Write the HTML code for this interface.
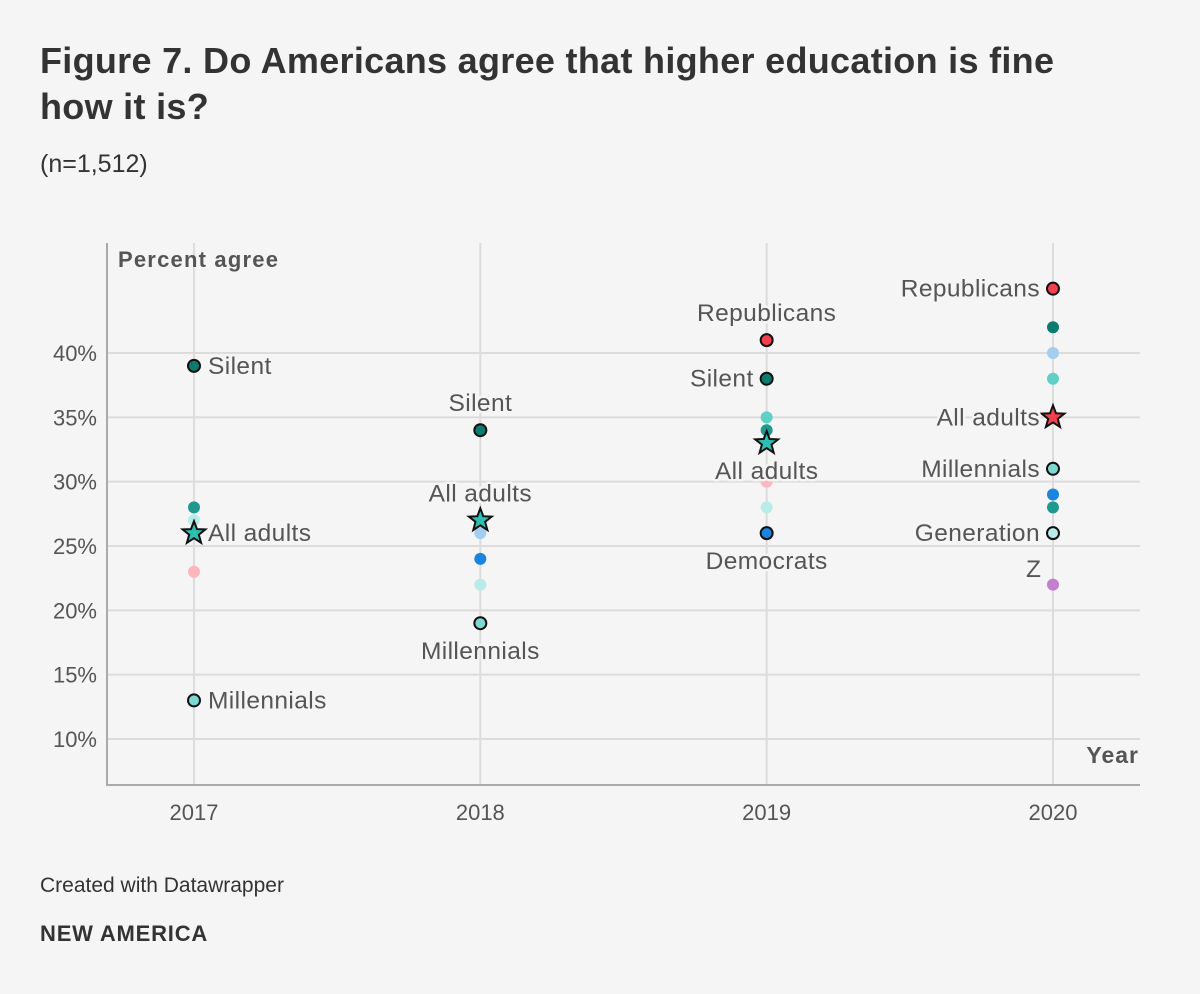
<!DOCTYPE html>
<html><head><meta charset="utf-8"><style>
body{margin:0;background:#f5f5f5;font-family:"Liberation Sans",sans-serif;}
#wrap{position:relative;width:1200px;height:994px;background:#f5f5f5;overflow:hidden}
h1{position:absolute;left:40px;top:38px;margin:0;font-size:36px;line-height:46px;font-weight:bold;color:#333;width:1140px;letter-spacing:0.3px}
.sub{position:absolute;left:40px;top:150px;font-size:25px;color:#333}
.foot1{position:absolute;left:40px;top:874px;font-size:21px;color:#333}
.foot2{position:absolute;left:40px;top:921px;font-size:22px;font-weight:bold;color:#333;letter-spacing:0.8px}
svg{position:absolute;left:0;top:0}
</style></head><body>
<div id="wrap">
<h1>Figure 7. Do Americans agree that higher education is fine<br>how it is?</h1>
<div class="sub">(n=1,512)</div>
<svg id="chart" width="1200" height="994"></svg>
<div class="foot1">Created with Datawrapper</div>
<div class="foot2">NEW AMERICA</div>
</div>
<script>
const years=['2017','2018','2019','2020'];
const yTicks=[10,15,20,25,30,35,40];
const silent=[39,34,38,42];
const genx=[28,null,34,28];
const boomers=[null,null,35,38];
const millennials=[13,19,null,31];
const genz=[27,22,28,26];
const republicans=[null,null,41,45];
const democrats=[null,24,26,29];
const independents=[null,26,null,40];
const other=[23,null,30,null];
const purple=[null,null,null,22];
const allAdults=[26,27,33,35];
const series=[
 {name:'genz',v:genz,c:'#b9ece8'},
 {name:'other',v:other,c:'#ffb5bd'},
 {name:'purple',v:purple,c:'#c27fd0'},
 {name:'independents',v:independents,c:'#a4cdf0'},
 {name:'democrats',v:democrats,c:'#1a84e0'},
 {name:'boomers',v:boomers,c:'#5fd0c6'},
 {name:'genx',v:genx,c:'#1f9990'},
 {name:'silent',v:silent,c:'#0e7b70'},
 {name:'millennials',v:millennials,c:'#7dd8d0'},
 {name:'republicans',v:republicans,c:'#f2404f'}
];
const labels=[
 ['silent',0,'Silent','r'],['allAdults',0,'All adults','r'],['millennials',0,'Millennials','r'],
 ['silent',1,'Silent','t'],['allAdults',1,'All adults','t'],['millennials',1,'Millennials','b'],
 ['republicans',2,'Republicans','t'],['silent',2,'Silent','l'],['allAdults',2,'All adults','b'],['democrats',2,'Democrats','b'],
 ['republicans',3,'Republicans','l'],['allAdults',3,'All adults','l'],['millennials',3,'Millennials','l'],['genz',3,'Generation','l']
];
const NS='http://www.w3.org/2000/svg';
const svg=document.getElementById('chart');
const X0=107,X1=1140,Y0=243,Y1=785;
const xs=i=>194+i*286.33;
const ys=v=>353+(40-v)*12.867;
function el(t,a,p){const e=document.createElementNS(NS,t);for(const k in a)e.setAttribute(k,a[k]);(p||svg).appendChild(e);return e;}
yTicks.forEach(t=>{
 const l=el('line',{x1:X0,x2:X1,y1:ys(t),y2:ys(t),stroke:'#dcdcdc','stroke-width':2});
 
 const tx=el('text',{x:97,y:ys(t)+8,'text-anchor':'end','font-size':22,fill:'#555'});tx.textContent=t+'%';
 
});
years.forEach((y,i)=>{
 const l=el('line',{x1:xs(i),x2:xs(i),y1:Y0,y2:Y1,stroke:'#dcdcdc','stroke-width':2});
 
 const tx=el('text',{x:xs(i),y:820,'text-anchor':'middle','font-size':22,fill:'#555'});tx.textContent=y;
 
});
const ax=el('path',{d:`M${X0} ${Y0}V${Y1}H${X1}`,fill:'none',stroke:'#aaa','stroke-width':2});

const yt=el('text',{x:118,y:267,'font-size':22,'font-weight':'bold',fill:'#555','letter-spacing':1.2});yt.textContent='Percent agree';

const xt=el('text',{x:1139,y:763,'text-anchor':'end','font-size':23,'font-weight':'bold',fill:'#555','letter-spacing':1});xt.textContent='Year';

const isLab=(n,i)=>labels.some(l=>l[0]===n&&l[1]===i);
series.forEach(s=>{s.v.forEach((v,i)=>{if(v==null)return;
 const o=isLab(s.name,i);
 const c=el('circle',{cx:xs(i),cy:ys(v),r:6,fill:s.c,stroke:o?'#111':'none','stroke-width':2});
 
});});
function star(cx,cy,R){let p=[];for(let k=0;k<10;k++){const r=k%2?R*0.42:R;const a=-Math.PI/2+k*Math.PI/5;p.push((cx+r*Math.cos(a)).toFixed(1)+','+(cy+r*Math.sin(a)).toFixed(1));}return p.join(' ');}
allAdults.forEach((v,i)=>{
 const s=el('polygon',{points:star(xs(i),ys(v),12),fill:i===3?'#f2404f':'#2cc0b3',stroke:'#111','stroke-width':2});
 
});
const vals={silent,millennials,republicans,democrats,allAdults,genz};
labels.forEach(l=>{
 const v=vals[l[0]][l[1]],x=xs(l[1]),y=ys(v);let a={'font-size':24.5,fill:'#555',stroke:'#f5f5f5','stroke-width':5,'paint-order':'stroke','stroke-linejoin':'round','letter-spacing':0.4};
 if(l[3]==='r'){a.x=x+14;a.y=y+8;}
 else if(l[3]==='l'){a.x=x-13;a.y=y+8;a['text-anchor']='end';}
 else if(l[3]==='t'){a.x=x;a.y=y-19;a['text-anchor']='middle';}
 else {a.x=x;a.y=y+36;a['text-anchor']='middle';}
 const t=el('text',a);t.textContent=l[2];
 
});
const z=el('text',{x:1041,y:ys(genz[3])+44,'text-anchor':'end','font-size':24.5,fill:'#555'});z.textContent='Z';

</script>
</body></html>
